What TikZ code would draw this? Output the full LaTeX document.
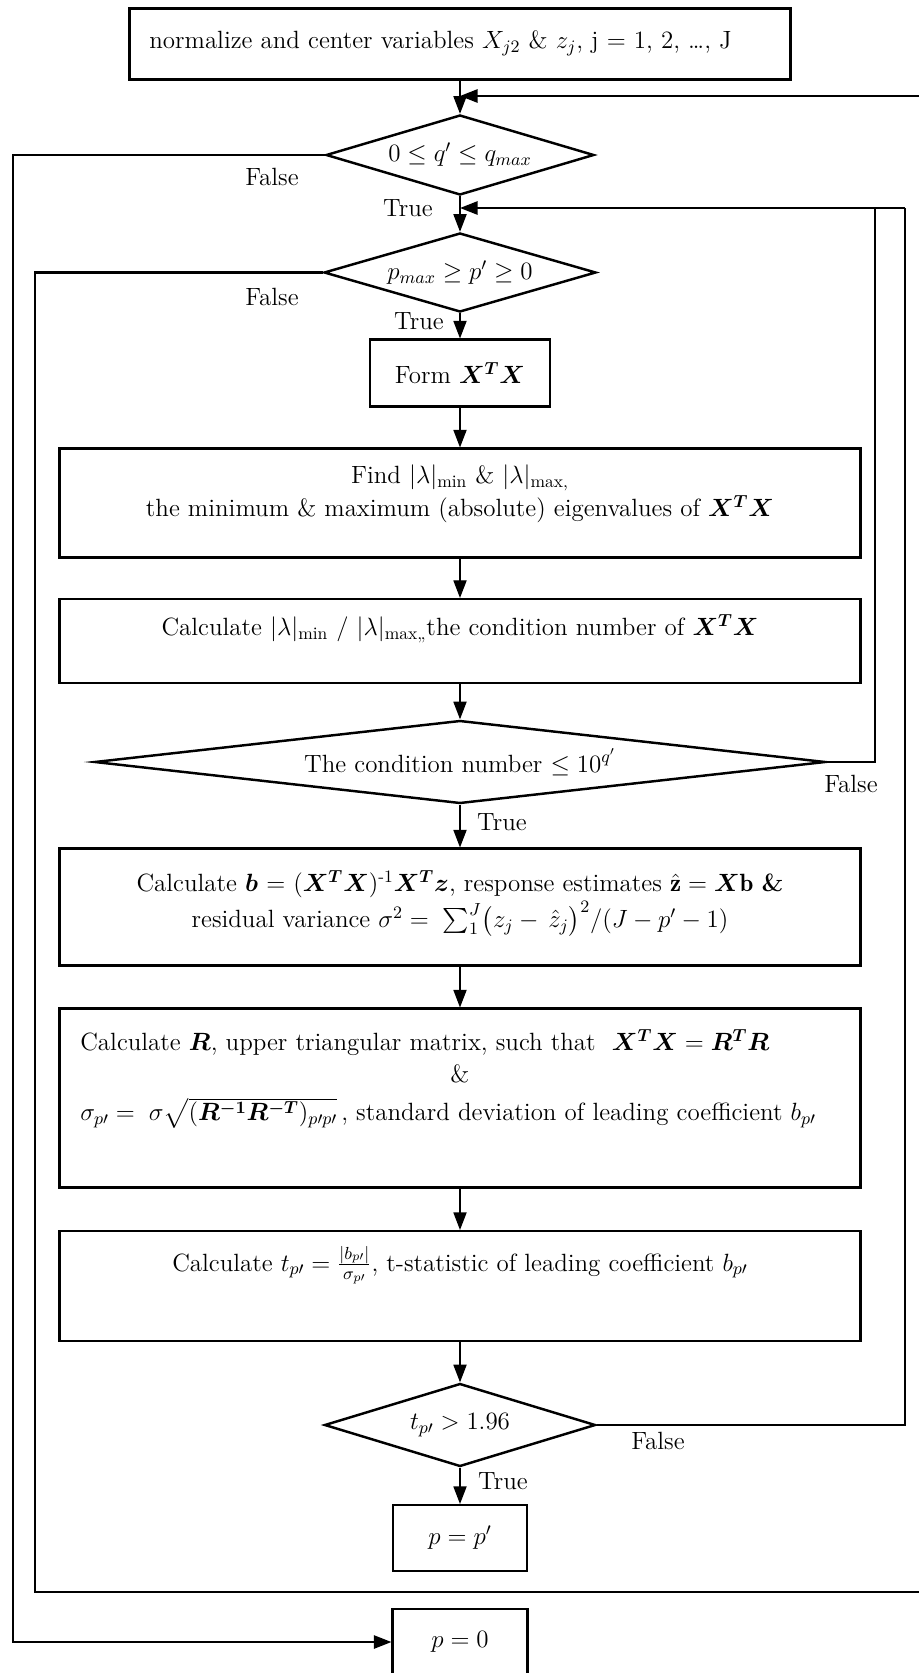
\RequirePackage{fix-cm}
\documentclass[tikz,border=0pt]{standalone}
\usepackage{amsmath,amssymb,bm}
\usepackage{fontspec}
\usetikzlibrary{shapes.geometric,arrows.meta}
\tikzset{
  sz/.style 2 args={minimum width=#1*0.02cm, minimum height=#2*0.02cm},
  procbox/.style={draw, rectangle, line width=1.2pt},
  decis/.style={draw, diamond, line width=1.4pt},
  flow/.style={line width=0.7pt, -{Triangle[length=10pt,width=7.5pt]}},
  loopln/.style={line width=1.2pt},
  looparr/.style={line width=1.2pt, -{Triangle[length=10pt,width=7.5pt]}}
}
\begin{document}
\begin{tikzpicture}[x=0.02cm,y=-0.02cm,
  every node/.style={font=\fontsize{14.2}{18.5}\selectfont, inner sep=0pt}]
\useasboundingbox (0,0) rectangle (919,1673);
\clip (0,0) rectangle (919,1673);

% boxes and decisions
\node[procbox, sz={661}{71}] (top) at (460,44) {};
\node[anchor=west] (topt) at (149,43) {normalize and center variables $X_{j2}$ \& $z_{j}$, j = 1, 2, \dots, J};

\node[decis, sz={268}{80}, shape aspect=3.35] (d1) at (460,155) {$0 \le q' \le q_{max}$};
\node[decis, sz={272}{79}, shape aspect=3.44] (d2) at (460,272.5) {$p_{max} \ge p' \ge 0$};

\node[procbox, sz={180}{67}] (form) at (460,373) {Form $\bm{X}^{\bm{T}}\bm{X}$};

\node[procbox, sz={801}{109}] (find) at (460,503) {};
\node[align=center] (findt) at (460,494) {Find |$\lambda$|\textsubscript{min} \& |$\lambda$|\textsubscript{max,}\\
the minimum \& maximum (absolute) eigenvalues of $\bm{X}^{\bm{T}}\bm{X}$};

\node[procbox, sz={801}{84}] (cond) at (460,641) {};
\node (condt) at (460,629) {Calculate |$\lambda$|\textsubscript{min} / |$\lambda$|\textsubscript{max,,}the condition number of $\bm{X}^{\bm{T}}\bm{X}$};

\node[decis, sz={731}{83}, shape aspect=8.8] (d3) at (460,762) {The condition number $\le 10^{q'}$};

\node[procbox, sz={801}{117}] (bbox) at (460,907) {};
\node[anchor=north] (bboxt1) at (460,870) {Calculate $\bm{b}$ = ($\bm{X}^{\bm{T}}\bm{X}$)\textsuperscript{-1}$\bm{X}^{\bm{T}}\bm{z}$, response estimates $\hat{\mathbf{z}} = \bm{X}\mathbf{b}$ \textbf{\&}};
\node[anchor=north] (bboxt2) at (460,901) {residual variance $\sigma^2 = \;\sum_1^J\bigl(z_j - \,\hat{z}_j\bigr)^2/(J - p' - 1)$};

\node[procbox, sz={801}{179}] (rbox) at (460,1098) {};
\node[anchor=west] (rt1) at (80,1043) {Calculate $\bm{R}$, upper triangular matrix, such that \ $\bm{X}^{\bm{T}}\bm{X} = \bm{R}^{\bm{T}}\bm{R}$};
\node (rt2) at (460,1074) {\&};
\node[anchor=west] (rt3) at (80,1113) {$\sigma_{p\prime} = \;\sigma\sqrt{(\bm{R}^{\bm{-1}}\bm{R}^{\bm{-T}})_{p\prime p\prime}}$\,, standard deviation of leading coefficient $b_{p\prime}$};

\node[procbox, sz={801}{110}] (tbox) at (460,1286) {};
\node (tboxt) at (460,1265) {Calculate $t_{p\prime} = \frac{|b_{p\prime}|}{\sigma_{p\prime}}$, t-statistic of leading coefficient $b_{p\prime}$};

\node[decis, sz={271}{83}, shape aspect=3.27] (d4) at (460,1425) {$t_{p\prime} > 1.96$};

\node[procbox, sz={134}{66}] (pp) at (460,1538) {$p = p'$};
\node[procbox, sz={135}{66}] (p0) at (460,1642) {$p = 0$};

% main flow
\draw[flow] (top.south) -- (d1.north);
\draw[flow] (d1.south) -- (d2.north);
\draw[flow] (d2.south) -- (form.north);
\draw[flow] (form.south) -- (find.north);
\draw[flow] (find.south) -- (cond.north);
\draw[flow] (cond.south) -- (d3.north);
\draw[flow] (d3.south) -- (bbox.north);
\draw[flow] (bbox.south) -- (rbox.north);
\draw[flow] (rbox.south) -- (tbox.north);
\draw[flow] (tbox.south) -- (d4.north);
\draw[flow] (d4.south) -- (pp.north);

% loops
\coordinate (rtop) at (925,96);
\draw[looparr] (rtop) -- (rtop -| top.south);
\coordinate (rmid) at (905,208);
\draw[looparr] (rmid) -- (rmid -| d1.south);
\coordinate (rcond) at (875,208);
\draw[loopln] (d3.east) -| (rcond);
\draw[loopln] (d4.east) -| (rmid);
\coordinate (lp) at (35,1592);
\coordinate (rbot) at (925,1592);
\draw[loopln] (d2.west) -| (lp) -- (rbot);
\coordinate (lq) at (13,1642);
\draw[looparr] (d1.west) -| (lq) -- (p0.west);

% labels
\node (f1) at (272,177) {False};
\node (t1) at (408,208) {True};
\node (f2) at (272,297) {False};
\node (t2) at (419,321) {True};
\node (f3) at (851,784) {False};
\node (t3) at (502,822) {True};
\node (f4) at (658,1441) {False};
\node (t4) at (503,1481) {True};
\end{tikzpicture}
\end{document}
